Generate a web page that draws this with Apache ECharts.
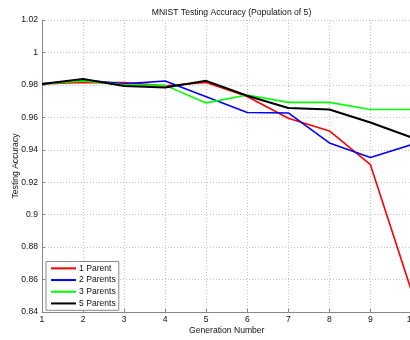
<!DOCTYPE html>
<html><head><meta charset="utf-8">
<script src="https://cdn.jsdelivr.net/npm/echarts@6/dist/echarts.min.js"></script>
<style>html,body{margin:0;padding:0;background:#fff}#c{width:410px;height:340px}</style>
</head><body><div id="c"></div>
<script>
const generations = [1,2,3,4,5,6,7,8,9,10];
const seriesNames = ['1 Parent','2 Parents','3 Parents','5 Parents'];
const onePar   = [0.9806,0.9815,0.9814,0.9795,0.9815,0.9728,0.9594,0.9516,0.9308,0.8530];
const twoPar   = [0.9806,0.9830,0.9806,0.9824,0.9727,0.9630,0.9627,0.9442,0.9353,0.9432];
const threePar = [0.9806,0.9825,0.9800,0.9797,0.9689,0.9738,0.9692,0.9692,0.9648,0.9648];
const fivePar  = [0.9806,0.9836,0.9793,0.9784,0.9825,0.9733,0.9658,0.9648,0.9568,0.9476];
const colors = ['#ff0000','#0000ff','#00ff00','#000000'];
const xTicks = {min:1,max:10,step:1};
const yTicks = {min:0.84,max:1.02,step:0.02};

const all = [onePar,twoPar,threePar,fivePar];
const font = 'Liberation Sans, Arial, sans-serif';
const chart = echarts.init(document.getElementById('c'));
chart.setOption({
  animation:false,
  backgroundColor:'#fff',
  title:{text:'MNIST Testing Accuracy (Population of 5)',left:226.5,top:3,textAlign:'center',
    textStyle:{fontSize:8.6,fontWeight:'normal',color:'#111',fontFamily:font}},
  grid:{left:42,top:20,width:369.5,height:292,containLabel:false,outerBoundsMode:'none'},
  legend:{orient:'vertical',left:46,top:261.5,data:seriesNames,icon:'rect',itemWidth:25,itemHeight:2,
    itemGap:0,padding:[1,3,1,5],borderColor:'#888',borderWidth:1,backgroundColor:'#fff',
    textStyle:{fontSize:8.6,color:'#111',fontFamily:font,lineHeight:11.7,padding:[0,0,0,-2]}},
  xAxis:{type:'value',min:xTicks.min,max:xTicks.max,interval:xTicks.step,
    name:'Generation Number',nameLocation:'middle',nameGap:14.5,nameMoveOverlap:false,
    nameTextStyle:{fontSize:8.6,color:'#111',fontFamily:font},
    axisLine:{lineStyle:{color:'#888',width:1}},
    axisTick:{inside:true,length:3,lineStyle:{color:'#888'}},
    axisLabel:{fontSize:8.6,color:'#111',fontFamily:font,margin:3},
    splitLine:{show:true,lineStyle:{type:[1,2],color:'#c4c4c4',width:1}}},
  yAxis:{type:'value',min:yTicks.min,max:yTicks.max,interval:yTicks.step,
    name:'Testing Accuracy',nameLocation:'middle',nameGap:22,nameRotate:90,nameMoveOverlap:false,
    nameTextStyle:{fontSize:8.6,color:'#111',fontFamily:font},
    axisLine:{show:true,lineStyle:{color:'#888',width:1}},
    axisTick:{show:true,inside:true,length:3,lineStyle:{color:'#888'}},
    axisLabel:{fontSize:8.6,color:'#111',fontFamily:font,margin:4,
      formatter:v=>String(parseFloat(v.toFixed(2)))},
    splitLine:{show:true,lineStyle:{type:[1,2],color:'#c4c4c4',width:1}}},
  series: seriesNames.map((n,i)=>({
    name:n,type:'line',symbol:'none',
    data:generations.map((g,j)=>[g,all[i][j]]),
    lineStyle:{color:colors[i],width:i===3?2:1.6},
    itemStyle:{color:colors[i]}
  }))
});
</script></body></html>
